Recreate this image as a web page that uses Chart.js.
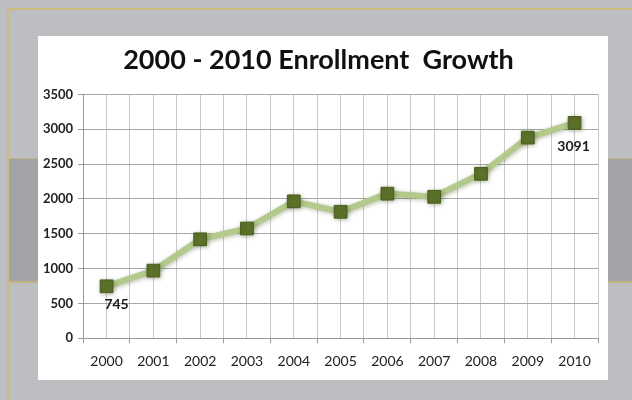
<!DOCTYPE html>
<html lang="en">
<head>
  <meta charset="UTF-8">
  <title>2000 - 2010 Enrollment Growth</title>
  <script src="https://cdn.jsdelivr.net/npm/chart.js"></script>
  <style>
    html, body { margin: 0; padding: 0; }
    body { width: 632px; height: 400px; background: #bdbec1; position: relative; overflow: hidden; font-family: Lato, sans-serif; }
    .frame { position: absolute; left: 7px; top: 8px; width: 640px; height: 420px; border-left: 2px solid #cdbb80; border-top: 2px solid #cdbb80; }
    .band { position: absolute; left: 9px; top: 158px; width: 640px; height: 122px; background: #a3a4a8; border-top: 1px solid #c2b27c; border-bottom: 2px solid #c2b27c; }
    .card { position: absolute; left: 38px; top: 36px; width: 570px; height: 344px; background: #fff; }
  </style>
</head>
<body>

<div class="frame"></div>
<div class="band"></div>
<div class="card"><canvas id="lineChart" width="570" height="344"></canvas></div>

<script>
  const years = ['2000', '2001', '2002', '2003', '2004', '2005', '2006', '2007', '2008', '2009', '2010'];
  const enrollment = [745, 970, 1420, 1575, 1965, 1815, 2075, 2030, 2360, 2880, 3091];
  // only the first and last points carry a value label
  const labelled = [0, 10];

  // soft shadow under the line and markers
  const lineGlow = {
    id: 'lineGlow',
    beforeDatasetsDraw(chart) {
      const ctx = chart.ctx;
      ctx.save();
      ctx.shadowColor = 'rgba(60, 70, 30, 0.35)';
      ctx.shadowBlur = 4;
      ctx.shadowOffsetX = 1;
      ctx.shadowOffsetY = 1;
    },
    afterDatasetsDraw(chart) {
      chart.ctx.restore();
    }
  };

  const pointLabels = {
    id: 'pointLabels',
    afterDatasetsDraw(chart) {
      const ctx = chart.ctx;
      const meta = chart.getDatasetMeta(0);
      ctx.save();
      ctx.font = 'bold 14px Lato, sans-serif';
      ctx.fillStyle = '#1a1a1a';
      ctx.textAlign = 'center';
      ctx.textBaseline = 'middle';
      labelled.forEach(i => {
        const pt = meta.data[i];
        const dx = i === 0 ? 10 : -1;
        const dy = i === 0 ? 18 : 24;
        ctx.fillText(String(enrollment[i]), pt.x + dx, pt.y + dy);
      });
      ctx.restore();
    }
  };

  const ctx = document.getElementById('lineChart').getContext('2d');
  new Chart(ctx, {
    type: 'line',
    data: {
      labels: years,
      datasets: [{
        data: enrollment,
        borderColor: '#b4c98c',
        borderWidth: 6,
        tension: 0,
        pointStyle: 'rect',
        pointRadius: 9,
        pointBackgroundColor: '#5c7129',
        pointBorderColor: '#4b5d1f',
        pointBorderWidth: 1
      }]
    },
    plugins: [lineGlow, pointLabels],
    options: {
      responsive: false,
      animation: false,
      events: [],
      layout: { padding: { left: 0, right: 9, top: 4, bottom: 0 } },
      plugins: {
        legend: { display: false },
        tooltip: { enabled: false },
        title: {
          display: true,
          text: '2000 - 2010 Enrollment  Growth',
          color: '#111',
          font: { family: 'Lato', size: 27, weight: 'bold' },
          padding: { top: 4, bottom: 18 }
        }
      },
      scales: {
        x: {
          type: 'category',
          offset: true,
          grid: { offset: true, color: '#c9c9c9', tickColor: '#9a9a9a', tickLength: 5 },
          border: { color: '#9a9a9a' },
          ticks: { color: '#222', font: { family: 'Lato', size: 14 }, padding: 10 }
        },
        // minor vertical lines through each year
        xMinor: {
          type: 'category',
          labels: years,
          offset: true,
          position: 'top',
          grid: { offset: false, color: '#c9c9c9', drawTicks: false },
          border: { display: false },
          ticks: { display: false }
        },
        y: {
          min: 0,
          max: 3500,
          ticks: {
            stepSize: 500,
            color: '#222',
            font: { family: 'Lato', size: 13, weight: 'bold' },
            padding: 5,
            callback: v => String(v)
          },
          grid: { color: '#a8a8a8', tickColor: '#9a9a9a', tickLength: 5 },
          border: { color: '#9a9a9a' }
        }
      }
    }
  });
</script>

</body>
</html>
